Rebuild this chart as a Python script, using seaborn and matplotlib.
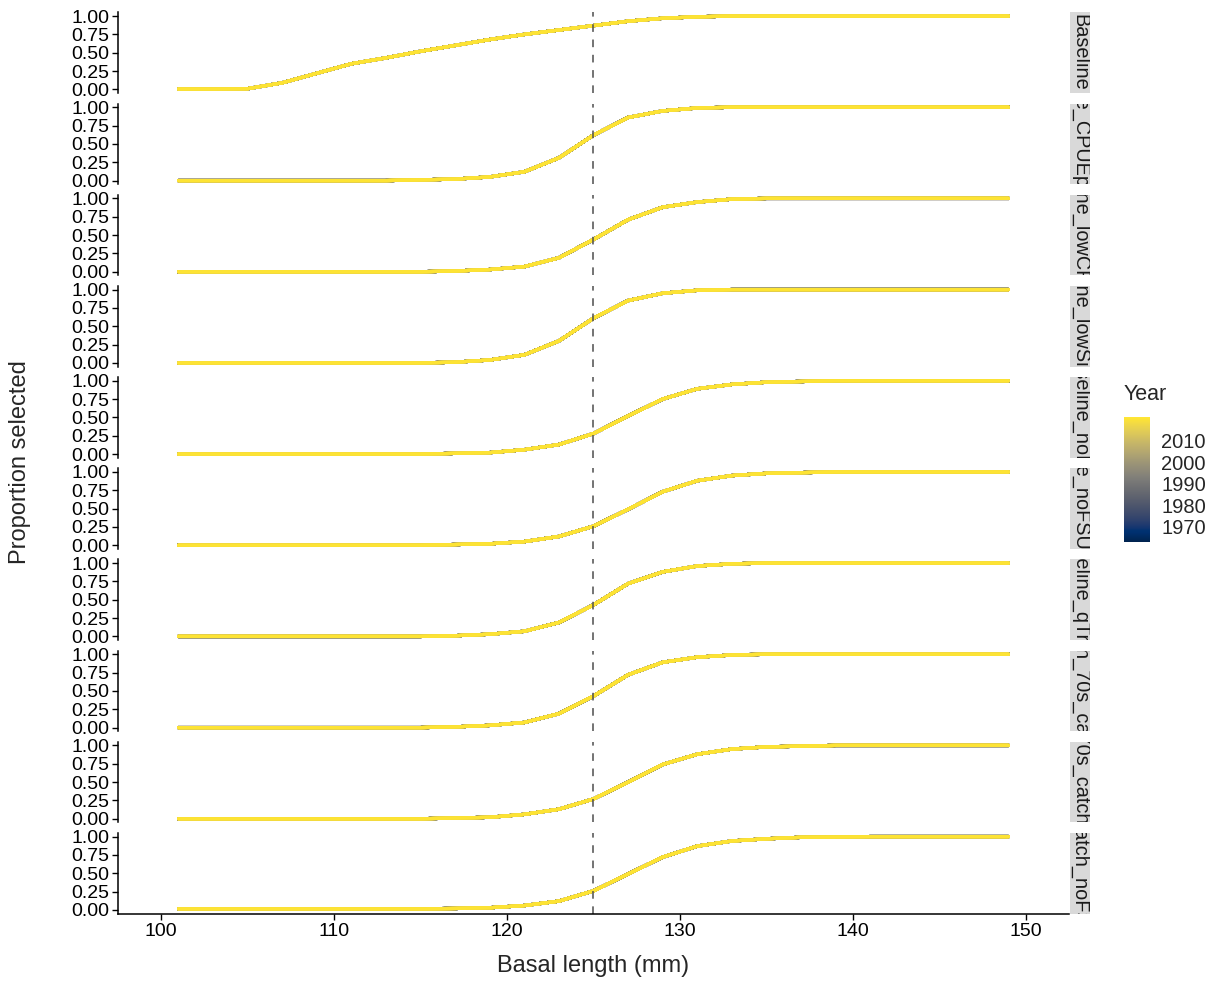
import numpy as np
import pandas as pd
import seaborn as sns
import matplotlib.pyplot as plt
from matplotlib.cm import ScalarMappable
from matplotlib.colors import Normalize

# basal length bins (mm) and years shown
lengths = [101, 103, 105, 107, 109, 111, 113, 115, 117, 119, 121, 123, 125,
           127, 129, 131, 133, 135, 137, 139, 141, 143, 145, 147, 149]
years = list(range(1964, 2021))

scenarios = ["Baseline", "Baseline_CPUEpowFSU", "Baseline_lowCPUEcv",
             "Baseline_lowSigmaR", "Baseline_noLFs", "Baseline_noFSU_efforts",
             "Baseline_qTrend", "High_70s_catch", "Low_70s_catch_FSU",
             "70s_catch_noFSU_all"]

sel_baseline = [0.005, 0.005, 0.01, 0.09, 0.22, 0.35, 0.43, 0.52, 0.60, 0.68,
                0.75, 0.81, 0.87, 0.93, 0.97, 0.99, 1.0, 1.0, 1.0, 1.0,
                1.0, 1.0, 1.0, 1.0, 1.0]
sel_cpue = [0.0, 0.0, 0.0, 0.0, 0.0, 0.0, 0.0, 0.01, 0.02, 0.05,
            0.12, 0.31, 0.62, 0.86, 0.95, 0.99, 1.0, 1.0, 1.0, 1.0,
            1.0, 1.0, 1.0, 1.0, 1.0]
sel_lowc = [0.0, 0.0, 0.0, 0.0, 0.0, 0.0, 0.0, 0.0, 0.01, 0.03,
            0.07, 0.19, 0.44, 0.71, 0.88, 0.95, 0.99, 1.0, 1.0, 1.0,
            1.0, 1.0, 1.0, 1.0, 1.0]
sel_lows = [0.0, 0.0, 0.0, 0.0, 0.0, 0.0, 0.0, 0.0, 0.01, 0.04,
            0.11, 0.30, 0.61, 0.85, 0.95, 0.99, 1.0, 1.0, 1.0, 1.0,
            1.0, 1.0, 1.0, 1.0, 1.0]
sel_nol = [0.0, 0.0, 0.0, 0.0, 0.0, 0.0, 0.0, 0.0, 0.01, 0.02,
           0.06, 0.13, 0.28, 0.52, 0.75, 0.89, 0.95, 0.98, 0.99, 1.0,
           1.0, 1.0, 1.0, 1.0, 1.0]
sel_nofsu = [0.0, 0.0, 0.0, 0.0, 0.0, 0.0, 0.0, 0.0, 0.01, 0.02,
             0.05, 0.12, 0.26, 0.49, 0.73, 0.88, 0.95, 0.98, 0.99, 1.0,
             1.0, 1.0, 1.0, 1.0, 1.0]
sel_qtr = [0.0, 0.0, 0.0, 0.0, 0.0, 0.0, 0.0, 0.0, 0.01, 0.03,
           0.07, 0.19, 0.43, 0.72, 0.88, 0.96, 0.99, 1.0, 1.0, 1.0,
           1.0, 1.0, 1.0, 1.0, 1.0]
sel_70s = [0.0, 0.0, 0.0, 0.0, 0.0, 0.0, 0.0, 0.0, 0.01, 0.03,
           0.07, 0.19, 0.43, 0.72, 0.89, 0.96, 0.99, 1.0, 1.0, 1.0,
           1.0, 1.0, 1.0, 1.0, 1.0]
sel_70s_fsu = [0.0, 0.0, 0.0, 0.0, 0.0, 0.0, 0.0, 0.0, 0.01, 0.02,
               0.06, 0.13, 0.27, 0.50, 0.74, 0.88, 0.95, 0.98, 0.99, 1.0,
               1.0, 1.0, 1.0, 1.0, 1.0]
sel_70s_nofsu = [0.015, 0.015, 0.015, 0.015, 0.015, 0.015, 0.015, 0.015, 0.02, 0.03,
                 0.06, 0.12, 0.26, 0.49, 0.72, 0.87, 0.94, 0.97, 0.99, 0.995,
                 1.0, 1.0, 1.0, 1.0, 1.0]

curves = [sel_baseline, sel_cpue, sel_lowc, sel_lows, sel_nol, sel_nofsu,
          sel_qtr, sel_70s, sel_70s_fsu, sel_70s_nofsu]

rows = []
for scen, sel in zip(scenarios, curves):
    for yr in years:
        for L, p in zip(lengths, sel):
            rows.append((scen, yr, L, p))
df = pd.DataFrame(rows, columns=["scenario", "Year", "length", "prop"])

sns.set_theme(style="white")
plt.rcParams['font.family'] = ['Liberation Sans', 'DejaVu Sans']

W, H = 1218, 982
fig, axes = plt.subplots(len(scenarios), 1, figsize=(W / 100, H / 100), dpi=100, sharex=True)
fig.subplots_adjust(left=118 / W, right=1069 / W, top=1 - 12.4 / H, bottom=1 - 913.6 / H, hspace=0.13)

norm = Normalize(1963, 2021)
for i, (ax, scen) in enumerate(zip(axes, scenarios)):
    sub = df[df.scenario == scen]
    sns.lineplot(data=sub, x="length", y="prop", hue="Year", palette="cividis",
                 hue_norm=norm, legend=False, linewidth=2.3, estimator=None,
                 units="Year", ax=ax)
    ax.axvline(125, color="#4D4D4D", linestyle=(0, (5, 5)), linewidth=1.1)
    ax.set_ylim(-0.05, 1.05)
    ax.set_xlim(97.5, 152.5)
    ax.set_yticks([0, 0.25, 0.5, 0.75, 1.0])
    ax.set_yticklabels(["0.00", "0.25", "0.50", "0.75", "1.00"])
    ax.set_xlabel("")
    ax.set_ylabel("")
    for s in ["top", "right"]:
        ax.spines[s].set_visible(False)
    ax.spines["left"].set_color("black")
    ax.spines["left"].set_linewidth(1.1)
    ax.tick_params(axis="y", length=4, width=1, color="black", labelsize=14,
                   labelcolor="black", pad=2, left=True)
    if i < len(scenarios) - 1:
        ax.spines["bottom"].set_visible(False)
        ax.tick_params(axis="x", bottom=False, labelbottom=False)
    else:
        ax.spines["bottom"].set_color("black")
        ax.spines["bottom"].set_linewidth(1.1)
        ax.set_xticks([100, 110, 120, 130, 140, 150])
        ax.tick_params(axis="x", length=4, width=1, color="black", labelsize=14,
                       labelcolor="black", pad=3, bottom=True)

    # facet strip on the right
    pos = ax.get_position()
    sax = fig.add_axes([1070 / W, pos.y0, 19.5 / W, pos.height])
    sax.set_facecolor("#D9D9D9")
    sax.set_xticks([])
    sax.set_yticks([])
    for s in sax.spines.values():
        s.set_visible(False)
    sax.text(0.5, 0.5, scen, rotation=-90, ha="center", va="center",
             fontsize=14.3, color="#1A1A1A", transform=sax.transAxes, clip_on=True)

fig.text(20 / W, 1 - 462 / H, "Proportion selected", rotation=90, ha="center",
         va="center", fontsize=17)
fig.text(593 / W, 1 - 966 / H, "Basal length (mm)", ha="center", va="center", fontsize=17)

# colour bar legend
cax = fig.add_axes([1124 / W, 1 - 542 / H, 26 / W, 125 / H])
sm = ScalarMappable(norm=norm, cmap="cividis")
cb = fig.colorbar(sm, cax=cax)
cb.outline.set_visible(False)
cb.set_ticks([1970, 1980, 1990, 2000, 2010])
cax.tick_params(axis="y", length=4, width=1, color="white", direction="in",
                left=True, right=True, labelsize=14.5, pad=8)
fig.text(1124 / W, 1 - 395 / H, "Year", ha="left", va="center", fontsize=15.5)

fig.savefig("out.png", dpi=100)
